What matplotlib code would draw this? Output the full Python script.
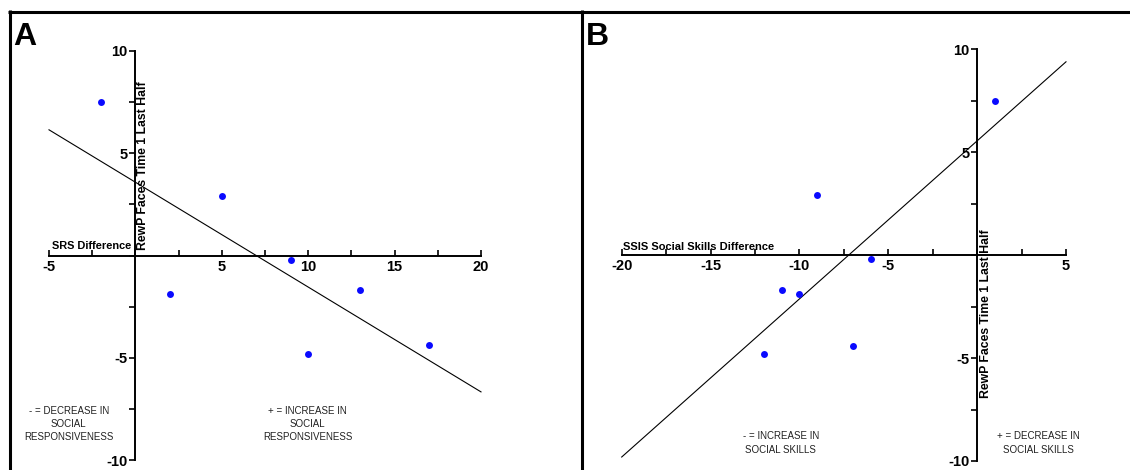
import numpy as np
import matplotlib
matplotlib.use('Agg')
import matplotlib.pyplot as plt
from matplotlib.lines import Line2D
from matplotlib.ticker import MultipleLocator

plt.rcParams['font.family'] = ['Liberation Sans', 'DejaVu Sans']

# data
rewp = [7.5, 2.9, -1.9, -0.2, -1.7, -4.8, -4.4]
srs_diff = [-2, 5, 2, 9, 13, 10, 17]
ssis_diff = [1, -9, -10, -6, -11, -12, -7]

ylabel = 'RewP Faces Time 1 Last Half'
y_ticks = [-10, -5, 0, 5, 10]
y_ticklabels = ['-10', '-5', '', '5', '10']

a_xticks = [-5, 0, 5, 10, 15, 20]
a_xticklabels = ['-5', '', '5', '10', '15', '20']
b_xticks = [-20, -15, -10, -5, 0, 5]
b_xticklabels = ['-20', '-15', '-10', '-5', '', '5']

W, H = 1130, 470
fig = plt.figure(figsize=(W / 100, H / 100), dpi=100)


def px_axes(x0, x1, ytop, ybot):
    return fig.add_axes([x0 / W, (H - ybot) / H, (x1 - x0) / W, (ybot - ytop) / H])


def style(ax, xlim, xticks, xticklabels):
    ax.set_xlim(*xlim)
    ax.set_ylim(-10, 10)
    for s in ['top', 'right']:
        ax.spines[s].set_visible(False)
    ax.spines['left'].set_position(('data', 0))
    ax.spines['bottom'].set_position(('data', 0))
    ax.spines['left'].set_linewidth(1.4)
    ax.spines['bottom'].set_linewidth(1.4)
    ax.set_xticks(xticks)
    ax.set_xticklabels(xticklabels)
    ax.set_yticks(y_ticks)
    ax.set_yticklabels(y_ticklabels)
    ax.xaxis.set_minor_locator(MultipleLocator(2.5))
    ax.yaxis.set_minor_locator(MultipleLocator(2.5))
    ax.tick_params(axis='x', which='both', direction='in', length=4, width=1.2, pad=3)
    ax.tick_params(axis='y', which='both', direction='out', length=4, width=1.2, pad=1.5)
    for lab in ax.get_xticklabels() + ax.get_yticklabels():
        lab.set_fontsize(10.5)
        lab.set_fontweight('bold')
    ax.patch.set_alpha(0)


note = dict(fontsize=7, ha='center', va='center', color='#222222', linespacing=1.4)

# panel A
axA = px_axes(49, 481, 51, 460)
style(axA, (-5, 20), a_xticks, a_xticklabels)
k, b = np.polyfit(srs_diff, rewp, 1)
xx = np.array([-5, 20])
axA.plot(xx, k * xx + b, color='black', lw=0.8, clip_on=False)
axA.plot(srs_diff, rewp, 'o', color='#0a0aff', ms=5, mec='none', clip_on=False)
axA.text(-4.83, 0.33, 'SRS Difference', fontsize=7.9, fontweight='bold', ha='left', va='baseline')
axA.text(0.44, 4.4, ylabel, rotation=90, fontsize=8.8, fontweight='bold', ha='center', va='center')
axA.text(-3.86, -8.25, '- = DECREASE IN\nSOCIAL\nRESPONSIVENESS', **note)
axA.text(9.98, -8.25, '+ = INCREASE IN\nSOCIAL\nRESPONSIVENESS', **note)

# panel B
axB = px_axes(621.7, 1066, 49.3, 461)
style(axB, (-20, 5), b_xticks, b_xticklabels)
k, b = np.polyfit(ssis_diff, rewp, 1)
xx = np.array([-20, 5])
axB.plot(xx, k * xx + b, color='black', lw=0.8, clip_on=False)
axB.plot(ssis_diff, rewp, 'o', color='#0a0aff', ms=5, mec='none', clip_on=False)
axB.text(-19.93, 0.24, 'SSIS Social Skills Difference', fontsize=8, fontweight='bold', ha='left', va='baseline')
axB.text(0.52, -2.85, ylabel, rotation=90, fontsize=8.8, fontweight='bold', ha='center', va='center')
axB.text(-11.04, -9.13, '- = INCREASE IN\nSOCIAL SKILLS', **note)
axB.text(3.44, -9.13, '+ = DECREASE IN\nSOCIAL SKILLS', **note)

# panel frames
lw = 2.2
fig.add_artist(Line2D([8 / W, 1], [(H - 11.5) / H] * 2, color='black', lw=lw, solid_capstyle='butt'))
fig.add_artist(Line2D([9.5 / W] * 2, [0, (H - 10) / H], color='black', lw=lw, solid_capstyle='butt'))
fig.add_artist(Line2D([581.5 / W] * 2, [0, (H - 10) / H], color='black', lw=lw, solid_capstyle='butt'))

fig.text(13 / W, (H - 45) / H, 'A', fontsize=23, fontweight='bold', ha='left', va='baseline')
fig.text(586 / W, (H - 45) / H, 'B', fontsize=23, fontweight='bold', ha='left', va='baseline')

fig.savefig('out.png', dpi=100)
